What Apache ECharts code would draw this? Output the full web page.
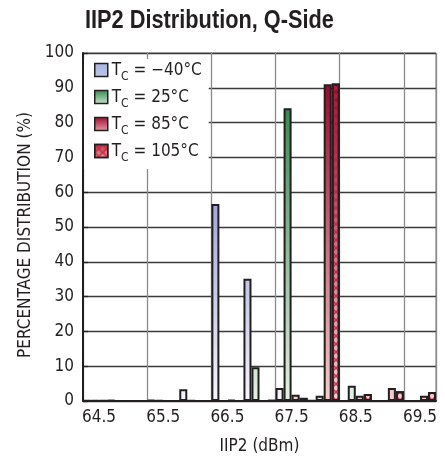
<!DOCTYPE html>
<html>
<head>
<meta charset="utf-8">
<script src="https://cdn.jsdelivr.net/npm/echarts@6/dist/echarts.min.js"></script>
<style>html,body{margin:0;padding:0;background:#fff;}#c{width:445px;height:460px;}</style>
</head>
<body>
<div id="c"></div>
<script>
var categories = ['64.5','65','65.5','66','66.5','67','67.5','68','68.5','69','69.5'];
var seriesNames = ['TC = \u221240\u00b0C','TC = 25\u00b0C','TC = 85\u00b0C','TC = 105\u00b0C'];
var tempLabels = ['\u221240\u00b0C','25\u00b0C','85\u00b0C','105\u00b0C'];
var valsM40 = [0.2, 0, 0.3, 3.4, 56.6, 35.1, 3.7, 0.2, 0, 0, 0];
var vals25  = [0.2, 0, 0.2, 0.2, 0, 9.7, 84.1, 1.5, 4.4, 0, 0];
var vals85  = [0.2, 0, 0, 0, 0.3, 0, 1.8, 91, 1.5, 3.7, 1.5];
var vals105 = [0.2, 0, 0, 0, 0, 0.2, 0.9, 91.2, 2.0, 2.8, 2.6];
var yTicks = [0,10,20,30,40,50,60,70,80,90,100];
var titleText = 'IIP2 Distribution, Q-Side';

var FONT = "'Liberation Sans Narrow','DejaVu Sans Condensed','Liberation Sans',sans-serif";
var INK = '#231f20';
var TOP = 53, BOT = 403;
function gGrad(stops){ return new echarts.graphic.LinearGradient(0, TOP, 0, BOT, stops, true); }
function lGrad(stops){ return new echarts.graphic.LinearGradient(0, 0, 0, 1, stops); }
var blueStops = [{offset:0,color:'#7f88c8'},{offset:0.43,color:'#a1a7d8'},{offset:1,color:'#f7f7fc'}];
var greenStops = [{offset:0,color:'#1f7a3c'},{offset:0.16,color:'#398a50'},{offset:1,color:'#e8f1e8'}];
var redStops = [{offset:0,color:'#8c0026'},{offset:0.09,color:'#980a2e'},{offset:1,color:'#f5d0d0'}];
var hatchDecal = {
  symbol: 'path://M0,0L1.4,0L10,8.6L10,10L8.6,10L0,1.4ZM8.6,0L10,0L10,1.4L1.4,10L0,10L0,8.6Z',
  symbolSize: 1, symbolKeepAspect: false,
  dashArrayX: [8, 0], dashArrayY: [8, 0],
  color: 'rgba(196,30,64,0.85)'
};
var allVals = [valsM40, vals25, vals85, vals105];
var fills = [gGrad(blueStops), gGrad(greenStops), gGrad(redStops), gGrad(redStops)];
var legendFills = [
  lGrad([{offset:0,color:'#a9b4de'},{offset:1,color:'#bcc6e8'}]),
  lGrad([{offset:0,color:'#2e8a4a'},{offset:1,color:'#cfe3cf'}]),
  lGrad([{offset:0,color:'#9a0a2e'},{offset:1,color:'#e6a0a6'}]),
  lGrad([{offset:0,color:'#b8303e'},{offset:1,color:'#e6a0a6'}])
];

var series = seriesNames.map(function(n, i){
  var st = {color: fills[i], borderColor: INK, borderWidth: 2};
  if (i === 3) st.decal = hatchDecal;
  return {
    name: n, type: 'bar', data: allVals[i],
    barGap: '0%', barCategoryGap: '0%',
    itemStyle: st
  };
});

var legendData = seriesNames.map(function(n, i){
  var st = {color: legendFills[i], borderColor: INK, borderWidth: 1.5};
  if (i === 3) st.decal = hatchDecal;
  return {name: n, itemStyle: st};
});

var chart = echarts.init(document.getElementById('c'), null, {renderer: 'canvas'});
chart.setOption({
  animation: false,
  backgroundColor: '#fff',
  aria: {enabled: false},
  graphic: [{
    type: 'text', x: 85, y: 21, scaleX: 0.87, scaleY: 1, z: 10,
    style: {text: titleText, font: "bold 25px 'Liberation Sans', Arial, sans-serif", fill: INK, verticalAlign: 'middle', align: 'left'}
  }],
  grid: {left: 83, right: 9, top: TOP, bottom: 460 - BOT, show: true, borderColor: '#777', borderWidth: 1, containLabel: false},
  legend: {
    orient: 'vertical', left: 84, top: 59, padding: [3, 7, 5, 10],
    backgroundColor: '#fff', itemWidth: 13, itemHeight: 13, itemGap: 6,
    icon: 'rect', data: legendData,
    formatter: function(name){ var i = seriesNames.indexOf(name); return '{t|T}{s|C}{t| = ' + tempLabels[i] + '}'; },
    textStyle: {
      fontFamily: FONT, color: INK, padding: [0,0,0,-1],
      rich: {
        t: {fontFamily: FONT, fontSize: 17, color: INK, lineHeight: 18, verticalAlign: 'bottom'},
        s: {fontFamily: FONT, fontSize: 12, color: INK, lineHeight: 18, verticalAlign: 'bottom', padding: [0,0,-4,0]}
      }
    }
  },
  xAxis: {
    type: 'category', data: categories,
    name: 'IIP2 (dBm)', nameLocation: 'middle', nameGap: 37,
    nameTextStyle: {fontFamily: FONT, fontSize: 17, color: INK},
    axisLine: {show: true, lineStyle: {color: INK, width: 2}},
    axisTick: {show: false},
    axisLabel: {interval: 1, fontFamily: FONT, fontSize: 17, color: INK, margin: 8},
    splitLine: {show: true, interval: function(index){ return index % 2 === 0; }, lineStyle: {color: '#8a8a8a', width: 1.3}}
  },
  yAxis: {
    type: 'value', min: 0, max: 100, interval: 10,
    name: 'PERCENTAGE DISTRIBUTION (%)', nameLocation: 'middle', nameGap: 48, nameRotate: 90,
    nameTextStyle: {fontFamily: FONT, fontSize: 17, color: INK, padding: [0,0,0,-16]},
    axisLine: {show: true, lineStyle: {color: INK, width: 2}},
    axisTick: {show: true, inside: true, length: 5, lineStyle: {color: INK, width: 1.3}},
    axisLabel: {fontFamily: FONT, fontSize: 17, color: INK, margin: 9,
      formatter: function(v){ return yTicks.indexOf(v) >= 0 ? String(v) : ''; }},
    splitLine: {show: true, lineStyle: {color: '#3a3a3a', width: 1.3}}
  },
  series: series
});
</script>
</body>
</html>
